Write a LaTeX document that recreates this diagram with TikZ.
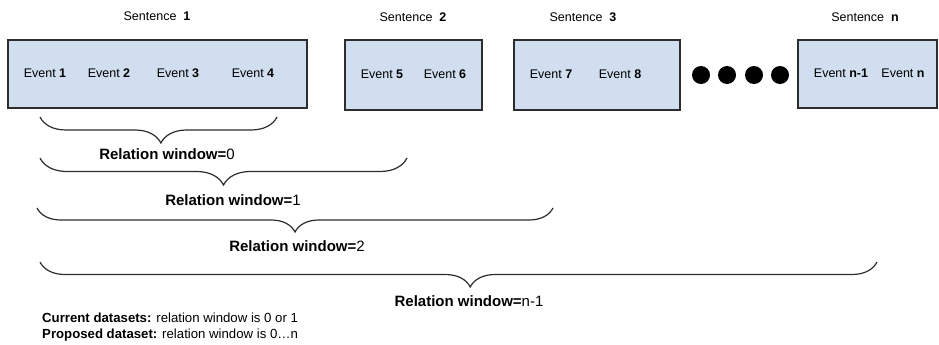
\documentclass[tikz,border=0pt]{standalone}
\usepackage{fontspec}
\setmainfont{Liberation Sans}
\usetikzlibrary{decorations.pathreplacing}
\definecolor{boxblue}{RGB}{208,222,239}
\definecolor{edgegray}{RGB}{45,45,45}
\tikzset{
  sentbox/.style={draw=edgegray,line width=1.3pt,fill=boxblue,inner sep=0pt},
  evt/.style={font=\fontsize{12.5}{14}\selectfont,inner sep=0pt},
  sent/.style={font=\fontsize{12.5}{14}\selectfont,inner sep=0pt},
  win/.style={font=\fontsize{15}{17}\selectfont,inner sep=0pt},
  note/.style={font=\fontsize{13.2}{15}\selectfont,inner sep=0pt,anchor=west},
  bigdot/.style={circle,fill=black,minimum size=18pt,inner sep=0pt},
  brc/.style={draw=edgegray,line width=1.2pt,decorate,
    decoration={brace,mirror,amplitude=#1}},
  brc/.default=25pt
}
\begin{document}
\begin{tikzpicture}[x=1pt,y=-1pt]
\useasboundingbox (0,0) rectangle (939,345);
% sentences
\node[sentbox,minimum width=299pt,minimum height=68pt] (s1) at (157.5,74) {};
\node[sentbox,minimum width=137pt,minimum height=70pt] (s2) at (413.5,75) {};
\node[sentbox,minimum width=166pt,minimum height=70pt] (s3) at (597,75) {};
\node[sentbox,minimum width=139pt,minimum height=68pt] (sn) at (867.5,74) {};
\node[sent] (t1) at (157,16) {Sentence~~\textbf{1}};
\node[sent] (t2) at (413,17) {Sentence~~\textbf{2}};
\node[sent] (t3) at (583,17) {Sentence~~\textbf{3}};
\node[sent] (tn) at (865,17) {Sentence~~\textbf{n}};
% events
\node[evt] (e1) at (45,73) {Event \textbf{1}};
\node[evt] (e2) at (109,73) {Event \textbf{2}};
\node[evt] (e3) at (178,73) {Event \textbf{3}};
\node[evt] (e4) at (253,73) {Event \textbf{4}};
\node[evt] (e5) at (382,74) {Event \textbf{5}};
\node[evt] (e6) at (445,74) {Event \textbf{6}};
\node[evt] (e7) at (551,74) {Event \textbf{7}};
\node[evt] (e8) at (620,74) {Event \textbf{8}};
\node[evt] (e9) at (841,73) {Event \textbf{n-1}};
\node[evt] (e10) at (903,73) {Event \textbf{n}};
% dots
\foreach \i/\px in {1/701,2/727,3/754,4/780}
  \node[bigdot] (d\i) at (\px,75) {};
% windows
\coordinate (w0a) at (40,117);  \coordinate (w0b) at (277,117);
\coordinate (w1a) at (40,158);  \coordinate (w1b) at (407,158);
\coordinate (w2a) at (37,208);  \coordinate (w2b) at (553,208);
\coordinate (w3a) at (40,262);  \coordinate (w3b) at (877,262);
\draw[brc=26pt,decoration={aspect=0.51}] (w0a) -- (w0b);
\draw[brc=27pt,decoration={aspect=0.50}] (w1a) -- (w1b);
\draw[brc=24pt,decoration={aspect=0.50}] (w2a) -- (w2b);
\draw[brc=25pt,decoration={aspect=0.514}] (w3a) -- (w3b);
\node[win] (r0) at (167,154) {\textbf{Relation window=}0};
\node[win] (r1) at (233,200) {\textbf{Relation window=}1};
\node[win] (r2) at (297,246) {\textbf{Relation window=}2};
\node[win] (r3) at (469,301) {\textbf{Relation window=}n-1};
% notes
\node[note] (c1) at (42,318) {\textbf{Current datasets:} relation window is 0 or 1};
\node[note] (c2) at (42,335) {\textbf{Proposed dataset:} relation window is 0\dots n};
\end{tikzpicture}
\end{document}
